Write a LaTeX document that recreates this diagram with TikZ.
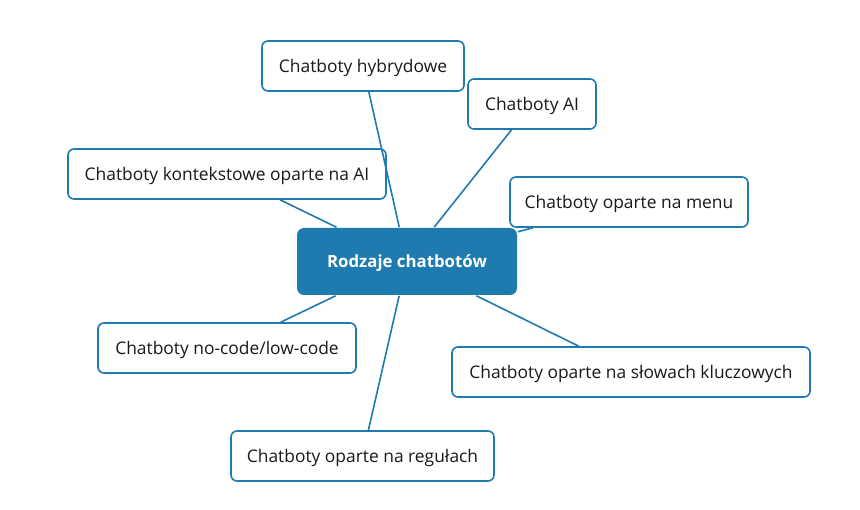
\documentclass[tikz,border=0pt]{standalone}
\usepackage{fontspec}
\setmainfont{Open Sans}
\begin{document}
\begin{tikzpicture}
[x=1pt,y=-1pt,
 line width=1.6pt,
 link/.style={draw=bluemain},
 leaf/.style={draw=bluemain,fill=white,rounded corners=6pt,minimum height=50pt,
   inner sep=0pt,text depth=0pt,font=\fontsize{17.4}{20}\selectfont,text=black!90},
 hub/.style={fill=bluemain,rounded corners=7pt,minimum width=220pt,minimum height=67pt,
   inner sep=0pt,text depth=0pt,font=\fontsize{16.8}{20}\selectfont\bfseries,text=white}]
\definecolor{bluemain}{HTML}{1F7BAF}
\useasboundingbox (0,0) rectangle (860,510);

\node[hub] (root) at (407,261.5) {Rodzaje chatbotów};

\node[leaf,minimum width=202pt] (hyb) at (363,66) {Chatboty hybrydowe};
\node[leaf,minimum width=128pt] (ai) at (532,104) {Chatboty AI};
\node[leaf,minimum width=318pt] (ctx) at (227,174) {Chatboty kontekstowe oparte na AI};
\node[leaf,minimum width=238pt] (menu) at (629,202) {Chatboty oparte na menu};
\node[leaf,minimum width=258pt] (nocode) at (227,348) {Chatboty no-code/low-code};
\node[leaf,minimum width=358pt] (kw) at (631,372) {Chatboty oparte na słowach kluczowych};
\node[leaf,minimum width=263pt] (rules) at (362.5,456) {Chatboty oparte na regułach};

% connectors
\foreach \n in {hyb,ai,ctx,menu,nocode,kw,rules}
  \draw[link] (root) -- (\n);
\end{tikzpicture}
\end{document}
